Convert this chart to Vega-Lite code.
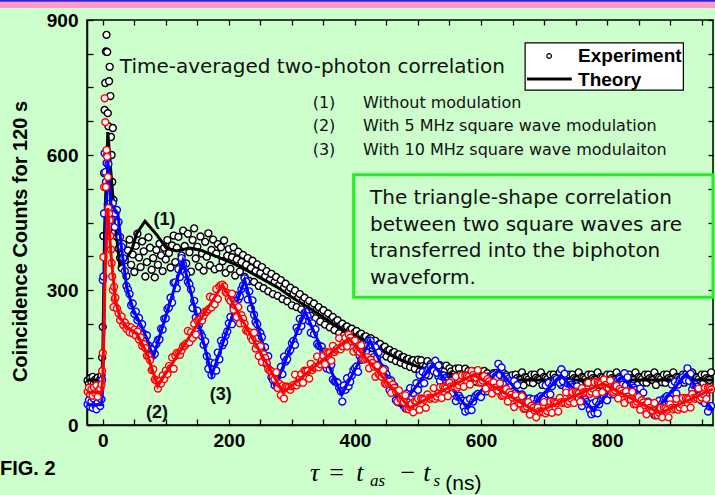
{
"$schema":"https://vega.github.io/schema/vega-lite/v6.json",
"width":626,"height":405,"autosize":"none",
"padding":{"left":87,"top":20,"right":2,"bottom":70},
"background":"#CCFFCC",
"config":{"view":{"stroke":"black","strokeWidth":1.5}},
"resolve":{"axis":{"x":"independent","y":"independent"}},
"datasets":{
"pts":[
{"t":-24,"k":99,"r":74,"b":46},{"t":-22,"k":92,"r":83,"b":55},{"t":-20,"k":104,"r":68,"b":41},{"t":-18,"k":96,"r":79,"b":52},{"t":-16,"k":107,"r":65,"b":38},{"t":-14,"k":93,"r":84,"b":58},{"t":-12,"k":101,"r":71,"b":44},{"t":-10,"k":98,"r":88,"b":35},{"t":-8,"k":105,"r":63,"b":50},{"t":-6,"k":94,"r":77,"b":61},{"t":-4,"k":102,"r":81,"b":42},{"t":-2,"k":110,"r":90,"b":57},
{"t":-1,"k":150,"r":120,"b":100},{"t":0,"k":218,"r":160,"b":322},{"t":1,"k":420,"r":373,"b":330},{"t":2,"k":560,"r":529,"b":470},{"t":3,"k":700,"r":726,"b":604},{"t":4,"k":760,"r":673,"b":562},{"t":5,"k":830,"r":529,"b":540},{"t":6,"k":867,"r":611,"b":582},{"t":7,"k":829,"r":596,"b":600},{"t":8,"k":693,"r":551,"b":490},{"t":9,"k":664,"r":482,"b":580},{"t":10,"k":764,"r":470,"b":470},{"t":11,"k":796,"r":455,"b":492},{"t":12,"k":731,"r":420,"b":480},{"t":13,"k":640,"r":390,"b":470},{"t":14,"k":600,"r":360,"b":462},{"t":15,"k":540,"r":330,"b":480},{"t":16,"k":660,"r":300,"b":493},{"t":17,"k":500,"r":262,"b":465},{"t":18,"k":470,"r":307,"b":470},{"t":19,"k":430,"r":280,"b":440},
{"t":20,"k":441,"r":283,"b":470},{"t":22.5,"k":418,"r":259,"b":478},{"t":25,"k":392,"r":248,"b":451},{"t":27.5,"k":371,"r":233,"b":418},{"t":30,"k":349,"r":241,"b":396},{"t":32.5,"k":402,"r":222,"b":371},{"t":35,"k":366,"r":228,"b":342},{"t":37.5,"k":331,"r":214,"b":309},{"t":40,"k":388,"r":219,"b":301},{"t":42.5,"k":412,"r":206,"b":291},{"t":45,"k":356,"r":217,"b":266},{"t":47.5,"k":379,"r":203,"b":270},{"t":50,"k":340,"r":212,"b":247},{"t":52.5,"k":398,"r":199,"b":252},{"t":55,"k":425,"r":208,"b":233},{"t":57.5,"k":372,"r":190,"b":238},{"t":60,"k":351,"r":195,"b":217},{"t":62.5,"k":408,"r":176,"b":224},{"t":65,"k":386,"r":180,"b":203},{"t":67.5,"k":330,"r":171,"b":193},{"t":70,"k":362,"r":154,"b":199},{"t":72.5,"k":417,"r":153,"b":177},{"t":75,"k":394,"r":144,"b":166},{"t":77.5,"k":345,"r":122,"b":168},{"t":80,"k":371,"r":124,"b":155},{"t":82.5,"k":328,"r":101,"b":158},{"t":85,"k":389,"r":99,"b":180},{"t":87.5,"k":356,"r":81,"b":189},{"t":90,"k":403,"r":97,"b":190},{"t":92.5,"k":377,"r":92,"b":214},{"t":95,"k":342,"r":110,"b":212},{"t":97.5,"k":394,"r":102,"b":236},{"t":100,"k":368,"r":121,"b":237},{"t":102.5,"k":411,"r":113,"b":258},{"t":105,"k":382,"r":131,"b":261},{"t":107.5,"k":350,"r":126,"b":283},
{"t":110,"k":399,"r":150,"b":272},{"t":112.5,"k":421,"r":125,"b":316},{"t":115,"k":362,"r":154,"b":317},{"t":117.5,"k":394,"r":160,"b":304},{"t":120,"k":418,"r":158,"b":346},{"t":122.5,"k":351,"r":156,"b":329},{"t":125,"k":377,"r":166,"b":371},{"t":127.5,"k":432,"r":175,"b":357},{"t":130,"k":398,"r":176,"b":340},{"t":132.5,"k":359,"r":181,"b":335},{"t":135,"k":425,"r":209,"b":318},{"t":137.5,"k":384,"r":184,"b":313},{"t":140,"k":341,"r":206,"b":301},{"t":142.5,"k":411,"r":193,"b":260},{"t":145,"k":437,"r":225,"b":276},{"t":147.5,"k":370,"r":201,"b":239},{"t":150,"k":396,"r":232,"b":254},{"t":152.5,"k":352,"r":234,"b":222},{"t":155,"k":419,"r":235,"b":204},{"t":157.5,"k":381,"r":232,"b":197},{"t":160,"k":343,"r":243,"b":178},{"t":162.5,"k":407,"r":252,"b":186},{"t":165,"k":374,"r":252,"b":153},{"t":167.5,"k":426,"r":257,"b":125},{"t":170,"k":355,"r":285,"b":139},{"t":172.5,"k":389,"r":261,"b":111},{"t":175,"k":412,"r":283,"b":123},{"t":177.5,"k":346,"r":268,"b":137},{"t":180,"k":381,"r":302,"b":121},{"t":182.5,"k":402,"r":280,"b":161},{"t":185,"k":350,"r":308,"b":146},{"t":187.5,"k":395,"r":311,"b":187},{"t":190,"k":364,"r":312,"b":177},{"t":192.5,"k":410,"r":308,"b":184},{"t":195,"k":338,"r":295,"b":199},{"t":197.5,"k":376,"r":293,"b":208},{"t":200,"k":391,"r":281,"b":226},
{"t":202.5,"k":347,"r":276,"b":240},{"t":205,"k":373,"r":292,"b":224},{"t":207.5,"k":395,"r":256,"b":263},{"t":210,"k":332,"r":266,"b":247},{"t":212.5,"k":368,"r":240,"b":288},{"t":215,"k":385,"r":262,"b":279},{"t":217.5,"k":341,"r":226,"b":286},{"t":220,"k":362,"r":244,"b":302},{"t":222.5,"k":378,"r":236,"b":310},{"t":225,"k":329,"r":225,"b":326},{"t":227.5,"k":356,"r":210,"b":319},{"t":230,"k":371,"r":208,"b":279},{"t":232.5,"k":320,"r":206,"b":297},{"t":235,"k":349,"r":195,"b":259},{"t":237.5,"k":365,"r":189,"b":277},{"t":240,"k":318,"r":205,"b":245},{"t":242.5,"k":342,"r":170,"b":229},{"t":245,"k":357,"r":179,"b":224},{"t":247.5,"k":309,"r":153,"b":208},{"t":250,"k":338,"r":175,"b":204},{"t":252.5,"k":351,"r":140,"b":195},{"t":255,"k":304,"r":157,"b":156},{"t":257.5,"k":330,"r":149,"b":173},{"t":260,"k":342,"r":138,"b":135},{"t":262.5,"k":297,"r":124,"b":153},{"t":265,"k":323,"r":121,"b":122},{"t":267.5,"k":336,"r":119,"b":106},{"t":270,"k":291,"r":108,"b":100},{"t":272.5,"k":318,"r":102,"b":88},{"t":275,"k":329,"r":117,"b":97},{"t":277.5,"k":287,"r":82,"b":108},{"t":280,"k":311,"r":92,"b":91},{"t":282.5,"k":322,"r":66,"b":129},{"t":285,"k":280,"r":87,"b":113},{"t":287.5,"k":305,"r":59,"b":152},{"t":290,"k":314,"r":85,"b":141},{"t":292.5,"k":275,"r":85,"b":146},{"t":295,"k":298,"r":83,"b":162},{"t":297.5,"k":305,"r":78,"b":167},
{"t":300,"k":266,"r":86,"b":182},{"t":302.5,"k":291,"r":89,"b":187},{"t":305,"k":299,"r":112,"b":178},{"t":307.5,"k":262,"r":88,"b":216},{"t":310,"k":283,"r":95,"b":209},{"t":312.5,"k":291,"r":103,"b":236},{"t":315,"k":257,"r":113,"b":220},{"t":317.5,"k":276,"r":94,"b":233},{"t":320,"k":283,"r":121,"b":249},{"t":322.5,"k":250,"r":120,"b":251},{"t":325,"k":271,"r":120,"b":242},{"t":327.5,"k":276,"r":103,"b":231},{"t":330,"k":243,"r":136,"b":205},{"t":332.5,"k":264,"r":122,"b":226},{"t":335,"k":270,"r":127,"b":202},{"t":337.5,"k":237,"r":129,"b":213},{"t":340,"k":257,"r":152,"b":180},{"t":342.5,"k":262,"r":128,"b":176},{"t":345,"k":230,"r":135,"b":175},{"t":347.5,"k":250,"r":144,"b":174},{"t":350,"k":255,"r":154,"b":163},{"t":352.5,"k":223,"r":135,"b":152},{"t":355,"k":243,"r":162,"b":126},{"t":357.5,"k":248,"r":160,"b":147},{"t":360,"k":217,"r":160,"b":123},{"t":362.5,"k":236,"r":143,"b":134},{"t":365,"k":240,"r":176,"b":101},{"t":367.5,"k":211,"r":162,"b":97},{"t":370,"k":230,"r":167,"b":96},{"t":372.5,"k":233,"r":170,"b":94},{"t":375,"k":204,"r":193,"b":83},{"t":377.5,"k":222,"r":168,"b":75},{"t":380,"k":225,"r":175,"b":52},{"t":382.5,"k":199,"r":184,"b":88},{"t":385,"k":217,"r":194,"b":78},{"t":387.5,"k":219,"r":175,"b":104},{"t":390,"k":194,"r":201,"b":86},{"t":392.5,"k":212,"r":194,"b":96},{"t":395,"k":214,"r":186,"b":110},{"t":397.5,"k":189,"r":163,"b":122},
{"t":400,"k":206,"r":188,"b":126},{"t":402.5,"k":209,"r":168,"b":130},{"t":405,"k":184,"r":165,"b":118},{"t":407.5,"k":201,"r":162,"b":154},{"t":410,"k":203,"r":177,"b":145},{"t":412.5,"k":181,"r":147,"b":170},{"t":415,"k":196,"r":146,"b":152},{"t":417.5,"k":197,"r":149,"b":163},{"t":420,"k":176,"r":151,"b":176},{"t":422.5,"k":191,"r":126,"b":188},{"t":425,"k":193,"r":145,"b":187},{"t":427.5,"k":171,"r":138,"b":177},{"t":430,"k":185,"r":130,"b":151},{"t":432.5,"k":187,"r":107,"b":173},{"t":435,"k":165,"r":132,"b":149},{"t":437.5,"k":179,"r":113,"b":161},{"t":440,"k":180,"r":110,"b":129},{"t":442.5,"k":158,"r":107,"b":125},{"t":445,"k":172,"r":122,"b":125},{"t":447.5,"k":174,"r":92,"b":124},{"t":450,"k":152,"r":91,"b":113},{"t":452.5,"k":166,"r":94,"b":103},{"t":455,"k":167,"r":96,"b":77},{"t":457.5,"k":147,"r":71,"b":99},{"t":460,"k":161,"r":90,"b":76},{"t":462.5,"k":162,"r":83,"b":87},{"t":465,"k":142,"r":75,"b":55},{"t":467.5,"k":156,"r":52,"b":51},{"t":470,"k":157,"r":77,"b":51},{"t":472.5,"k":138,"r":57,"b":49},{"t":475,"k":151,"r":54,"b":49},{"t":477.5,"k":151,"r":51,"b":50},{"t":480,"k":133,"r":66,"b":37},{"t":482.5,"k":146,"r":36,"b":70},{"t":485,"k":147,"r":35,"b":59},{"t":487.5,"k":129,"r":40,"b":82},{"t":490,"k":143,"r":47,"b":62},{"t":492.5,"k":144,"r":28,"b":71},{"t":495,"k":125,"r":53,"b":82},{"t":497.5,"k":139,"r":52,"b":93},
{"t":500,"k":145,"r":59,"b":78},{"t":502.5,"k":119,"r":34,"b":111},{"t":505,"k":144,"r":59,"b":92},{"t":507.5,"k":131,"r":58,"b":118},{"t":510,"k":124,"r":56,"b":93},{"t":512.5,"k":130,"r":38,"b":112},{"t":515,"k":142,"r":68,"b":123},{"t":517.5,"k":110,"r":60,"b":126},{"t":520,"k":135,"r":58,"b":130},{"t":522.5,"k":128,"r":61,"b":125},{"t":525,"k":121,"r":82,"b":120},{"t":527.5,"k":121,"r":58,"b":143},{"t":530,"k":133,"r":63,"b":116},{"t":532.5,"k":108,"r":70,"b":132},{"t":535,"k":133,"r":84,"b":98},{"t":537.5,"k":120,"r":60,"b":108},{"t":540,"k":114,"r":85,"b":110},{"t":542.5,"k":120,"r":83,"b":104},{"t":545,"k":132,"r":81,"b":99},{"t":547.5,"k":101,"r":64,"b":86},{"t":550,"k":126,"r":94,"b":75},{"t":552.5,"k":119,"r":86,"b":98},{"t":555,"k":113,"r":84,"b":71},{"t":557.5,"k":113,"r":86,"b":87},{"t":560,"k":125,"r":107,"b":53},{"t":562.5,"k":101,"r":83,"b":63},{"t":565,"k":126,"r":88,"b":65},{"t":567.5,"k":113,"r":96,"b":59},{"t":570,"k":108,"r":110,"b":54},{"t":572.5,"k":113,"r":85,"b":41},{"t":575,"k":125,"r":110,"b":30},{"t":577.5,"k":95,"r":109,"b":54},{"t":580,"k":120,"r":107,"b":33},{"t":582.5,"k":113,"r":90,"b":58},{"t":585,"k":108,"r":120,"b":33},{"t":587.5,"k":107,"r":111,"b":52},{"t":590,"k":119,"r":106,"b":62},{"t":592.5,"k":96,"r":105,"b":66},{"t":595,"k":120,"r":122,"b":69},{"t":597.5,"k":107,"r":94,"b":65},
{"t":600,"k":103,"r":95,"b":62},{"t":602.5,"k":108,"r":99,"b":94},{"t":605,"k":120,"r":109,"b":75},{"t":607.5,"k":91,"r":81,"b":101},{"t":610,"k":115,"r":102,"b":75},{"t":612.5,"k":108,"r":97,"b":94},{"t":615,"k":104,"r":91,"b":104},{"t":617.5,"k":103,"r":70,"b":108},{"t":620,"k":115,"r":95,"b":111},{"t":622.5,"k":92,"r":83,"b":107},{"t":625,"k":116,"r":77,"b":104},{"t":627.5,"k":103,"r":76,"b":136},{"t":630,"k":100,"r":93,"b":111},{"t":632.5,"k":104,"r":65,"b":128},{"t":635,"k":116,"r":66,"b":94},{"t":637.5,"k":88,"r":70,"b":105},{"t":640,"k":111,"r":80,"b":107},{"t":642.5,"k":104,"r":52,"b":102},{"t":645,"k":101,"r":73,"b":97},{"t":647.5,"k":99,"r":67,"b":85},{"t":650,"k":111,"r":61,"b":74},{"t":652.5,"k":89,"r":40,"b":98},{"t":655,"k":112,"r":66,"b":71},{"t":657.5,"k":104,"r":54,"b":89},{"t":660,"k":100,"r":48,"b":55},{"t":662.5,"k":100,"r":47,"b":66},{"t":665,"k":117,"r":64,"b":68},{"t":667.5,"k":88,"r":36,"b":63},{"t":670,"k":107,"r":37,"b":58},{"t":672.5,"k":105,"r":41,"b":46},{"t":675,"k":101,"r":51,"b":35},{"t":677.5,"k":95,"r":23,"b":59},{"t":680,"k":112,"r":43,"b":32},{"t":682.5,"k":93,"r":38,"b":57},{"t":685,"k":112,"r":32,"b":30},{"t":687.5,"k":105,"r":17,"b":49},{"t":690,"k":102,"r":39,"b":59},{"t":692.5,"k":100,"r":30,"b":61},{"t":695,"k":117,"r":28,"b":64},{"t":697.5,"k":89,"r":30,"b":60},
{"t":700,"k":107,"r":51,"b":57},{"t":702.5,"k":105,"r":26,"b":88},{"t":705,"k":102,"r":31,"b":69},{"t":707.5,"k":95,"r":38,"b":94},{"t":710,"k":112,"r":52,"b":68},{"t":712.5,"k":94,"r":27,"b":86},{"t":715,"k":112,"r":52,"b":96},{"t":717.5,"k":105,"r":50,"b":99},{"t":720,"k":101,"r":48,"b":102},{"t":722.5,"k":100,"r":30,"b":97},{"t":725,"k":117,"r":60,"b":94},{"t":727.5,"k":89,"r":51,"b":124},{"t":730,"k":107,"r":49,"b":97},{"t":732.5,"k":105,"r":51,"b":114},{"t":735,"k":102,"r":72,"b":81},{"t":737.5,"k":95,"r":47,"b":92},{"t":740,"k":112,"r":52,"b":94},{"t":742.5,"k":94,"r":59,"b":89},{"t":745,"k":112,"r":73,"b":84},{"t":747.5,"k":104,"r":49,"b":73},{"t":750,"k":101,"r":74,"b":62},{"t":752.5,"k":100,"r":72,"b":86},{"t":755,"k":117,"r":70,"b":59},{"t":757.5,"k":89,"r":52,"b":76},{"t":760,"k":107,"r":82,"b":42},{"t":762.5,"k":105,"r":73,"b":53},{"t":765,"k":102,"r":71,"b":56},{"t":767.5,"k":95,"r":73,"b":51},{"t":770,"k":112,"r":94,"b":46},{"t":772.5,"k":94,"r":69,"b":34},{"t":775,"k":112,"r":74,"b":24},{"t":777.5,"k":104,"r":81,"b":48},{"t":780,"k":101,"r":95,"b":27},{"t":782.5,"k":100,"r":70,"b":52},{"t":785,"k":117,"r":95,"b":26},{"t":787.5,"k":89,"r":93,"b":46},{"t":790,"k":107,"r":91,"b":56},{"t":792.5,"k":105,"r":73,"b":59},{"t":795,"k":102,"r":101,"b":62},{"t":797.5,"k":95,"r":89,"b":58},
{"t":800,"k":112,"r":83,"b":55},{"t":802.5,"k":94,"r":82,"b":87},{"t":805,"k":112,"r":99,"b":68},{"t":807.5,"k":104,"r":72,"b":94},{"t":810,"k":101,"r":73,"b":68},{"t":812.5,"k":100,"r":77,"b":87},{"t":815,"k":117,"r":87,"b":97},{"t":817.5,"k":89,"r":59,"b":100},{"t":820,"k":107,"r":80,"b":103},{"t":822.5,"k":105,"r":76,"b":99},{"t":825,"k":102,"r":70,"b":90},{"t":827.5,"k":95,"r":49,"b":115},{"t":830,"k":112,"r":75,"b":88},{"t":832.5,"k":94,"r":63,"b":106},{"t":835,"k":112,"r":57,"b":73},{"t":837.5,"k":104,"r":57,"b":84},{"t":840,"k":101,"r":74,"b":87},{"t":842.5,"k":100,"r":46,"b":83},{"t":845,"k":117,"r":47,"b":78},{"t":847.5,"k":89,"r":52,"b":67},{"t":850,"k":107,"r":62,"b":56},{"t":852.5,"k":105,"r":34,"b":81},{"t":855,"k":102,"r":55,"b":54},{"t":857.5,"k":95,"r":50,"b":72},{"t":860,"k":112,"r":44,"b":38},{"t":862.5,"k":94,"r":24,"b":50},{"t":865,"k":112,"r":50,"b":52},{"t":867.5,"k":104,"r":38,"b":48},{"t":870,"k":101,"r":32,"b":44},{"t":872.5,"k":100,"r":32,"b":32},{"t":875,"k":117,"r":49,"b":22},{"t":877.5,"k":89,"r":21,"b":48},{"t":880,"k":107,"r":22,"b":29},{"t":882.5,"k":105,"r":27,"b":54},{"t":885,"k":102,"r":38,"b":28},{"t":887.5,"k":95,"r":17,"b":48},{"t":890,"k":112,"r":38,"b":58},{"t":892.5,"k":94,"r":37,"b":61},{"t":895,"k":112,"r":34,"b":64},{"t":897.5,"k":104,"r":17,"b":60},
{"t":900,"k":101,"r":46,"b":57},{"t":902.5,"k":100,"r":38,"b":90},{"t":905,"k":117,"r":35,"b":71},{"t":907.5,"k":89,"r":38,"b":96},{"t":910,"k":107,"r":58,"b":70},{"t":912.5,"k":105,"r":34,"b":90},{"t":915,"k":102,"r":39,"b":100},{"t":917.5,"k":95,"r":46,"b":103},{"t":920,"k":112,"r":60,"b":106},{"t":922.5,"k":94,"r":36,"b":102},{"t":925,"k":112,"r":60,"b":99},{"t":927.5,"k":104,"r":59,"b":126},{"t":930,"k":101,"r":57,"b":98},{"t":932.5,"k":100,"r":39,"b":114},{"t":935,"k":117,"r":69,"b":79},{"t":937.5,"k":89,"r":60,"b":89},{"t":940,"k":107,"r":58,"b":90},{"t":942.5,"k":105,"r":61,"b":85},{"t":945,"k":102,"r":81,"b":79},{"t":947.5,"k":95,"r":57,"b":66},{"t":950,"k":112,"r":61,"b":54},{"t":952.5,"k":94,"r":69,"b":77},{"t":955,"k":112,"r":83,"b":49},{"t":957.5,"k":104,"r":58,"b":65},{"t":960,"k":101,"r":83,"b":30},{"t":962.5,"k":100,"r":82,"b":41},{"t":965,"k":117,"r":79,"b":42}
],
"tk":[{"t":-25,"v":100},{"t":-2,"v":100},{"t":0,"v":150},{"t":3,"v":440},{"t":8,"v":651},{"t":13,"v":560},{"t":19,"v":456},{"t":27,"v":355},{"t":35,"v":365},{"t":46,"v":389},{"t":54,"v":426},{"t":67,"v":453},{"t":86,"v":422},{"t":101,"v":393},{"t":117,"v":387},{"t":138,"v":393},{"t":154,"v":389},{"t":181,"v":374},{"t":210,"v":357},{"t":228,"v":344},{"t":250,"v":327},{"t":276,"v":307},{"t":300,"v":284},{"t":333,"v":255},{"t":365,"v":225},{"t":387,"v":206},{"t":424,"v":182},{"t":450,"v":160},{"t":476,"v":142},{"t":500,"v":130},{"t":530,"v":118},{"t":583,"v":106},{"t":635,"v":100},{"t":968,"v":100}],
"tr":[{"t":-25,"v":73},{"t":-2,"v":73},{"t":0,"v":100},{"t":4,"v":350},{"t":8,"v":482},{"t":13,"v":380},{"t":20,"v":278},{"t":27,"v":240},{"t":38,"v":218},{"t":54,"v":204},{"t":70,"v":160},{"t":87,"v":86},{"t":190,"v":311},{"t":286,"v":72},{"t":390,"v":192},{"t":487,"v":38},{"t":588,"v":112},{"t":689,"v":28},{"t":793,"v":92},{"t":884,"v":26},{"t":968,"v":80}],
"tb":[{"t":-25,"v":45},{"t":-2,"v":45},{"t":0,"v":80},{"t":4,"v":400},{"t":8,"v":590},{"t":13,"v":490},{"t":24,"v":470},{"t":30,"v":390},{"t":38,"v":307},{"t":48,"v":258},{"t":62,"v":218},{"t":71,"v":189},{"t":80,"v":150},{"t":127,"v":365},{"t":173,"v":111},{"t":225,"v":322},{"t":273,"v":85},{"t":321,"v":252},{"t":379,"v":67},{"t":424,"v":187},{"t":473,"v":42},{"t":524,"v":135},{"t":578,"v":38},{"t":628,"v":122},{"t":680,"v":40},{"t":727,"v":110},{"t":778,"v":32},{"t":823,"v":106},{"t":877,"v":32},{"t":926,"v":114},{"t":968,"v":32}]
},
"layer":[
{"data":{"name":"pts"},"mark":{"type":"point","shape":"circle","filled":true,"fill":"white","stroke":"black","strokeWidth":1.4,"size":48,"opacity":1},
 "encoding":{
  "x":{"field":"t","type":"quantitative","scale":{"domain":[-25,968],"nice":false,"zero":false},
   "axis":{"orient":"bottom","values":[0,50,100,150,200,250,300,350,400,450,500,550,600,650,700,750,800,850,900,950],"labelExpr":"datum.value % 200 === 0 ? datum.label : ''","title":null,"grid":false,"domainColor":"black","domainWidth":1.5,"tickColor":"black","tickWidth":1.3,"tickSize":-6,"labelPadding":12,"labelFont":"Liberation Sans","labelFontWeight":"bold","labelFontSize":19,"labelColor":"black","labelFlush":false}},
  "y":{"field":"k","type":"quantitative","scale":{"domain":[0,900],"nice":false},
   "axis":{"orient":"left","values":[0,75,150,225,300,375,450,525,600,675,750,825,900],"labelExpr":"datum.value % 300 === 0 ? datum.label : ''","title":"Coincidence Counts for 120 s","titleFont":"Liberation Sans","titleFontWeight":"bold","titleFontSize":20,"titleColor":"black","titleX":-67,"titleY":221,"titleAlign":"center","titleBaseline":"middle","titleAngle":-90,"grid":false,"domainColor":"black","domainWidth":1.5,"tickColor":"black","tickWidth":1.3,"tickSize":-6,"labelPadding":15,"labelFont":"Liberation Sans","labelFontWeight":"bold","labelFontSize":19,"labelColor":"black","labelFlush":false}}}},
{"data":{"values":[{}]},"mark":{"type":"rect","fill":"#FF99CC"},
 "encoding":{"x":{"datum":-175,"type":"quantitative","axis":{"orient":"top","values":[0,50,100,150,200,250,300,350,400,450,500,550,600,650,700,750,800,850,900,950],"labels":false,"title":null,"grid":false,"domain":false,"tickColor":"black","tickWidth":1.3,"tickSize":-5}},"x2":{"datum":1010},"y":{"datum":926.5,"type":"quantitative","axis":{"orient":"right","values":[0,75,150,225,300,375,450,525,600,675,750,825,900],"labels":false,"title":null,"grid":false,"domain":false,"tickColor":"black","tickWidth":1.3,"tickSize":-5}},"y2":{"datum":941}}},
{"data":{"values":[{}]},"mark":{"type":"rect","fill":"#3322CC"},
 "encoding":{"x":{"datum":-175,"type":"quantitative","axis":null},"x2":{"datum":1010},"y":{"datum":940.5,"type":"quantitative","axis":null},"y2":{"datum":950}}},
{"data":{"name":"tk"},"mark":{"type":"line","color":"black","strokeWidth":3},
 "encoding":{"x":{"field":"t","type":"quantitative","axis":null},"y":{"field":"v","type":"quantitative","axis":null}}},
{"data":{"name":"pts"},"mark":{"type":"point","shape":"circle","filled":true,"fill":"white","stroke":"#0000FF","strokeWidth":1.4,"size":48,"opacity":1},
 "encoding":{"x":{"field":"t","type":"quantitative","axis":null},"y":{"field":"b","type":"quantitative","axis":null}}},
{"data":{"name":"tb"},"mark":{"type":"line","color":"#0000FF","strokeWidth":3},
 "encoding":{"x":{"field":"t","type":"quantitative","axis":null},"y":{"field":"v","type":"quantitative","axis":null}}},
{"data":{"name":"pts"},"mark":{"type":"point","shape":"circle","filled":true,"fill":"white","stroke":"#FF0000","strokeWidth":1.4,"size":48,"opacity":1},
 "encoding":{"x":{"field":"t","type":"quantitative","axis":null},"y":{"field":"r","type":"quantitative","axis":null}}},
{"data":{"name":"tr"},"mark":{"type":"line","color":"#FF0000","strokeWidth":3},
 "encoding":{"x":{"field":"t","type":"quantitative","axis":null},"y":{"field":"v","type":"quantitative","axis":null}}},
{"data":{"values":[{}]},"mark":{"type":"rect","fillOpacity":0,"stroke":"#22EE22","strokeWidth":3},
 "encoding":{"x":{"datum":398,"type":"quantitative","axis":null},"x2":{"datum":968},"y":{"datum":284,"type":"quantitative","axis":null},"y2":{"datum":556}}},
{"data":{"values":[{}]},"mark":{"type":"rect","fill":"white","stroke":"black","strokeWidth":1.2},
 "encoding":{"x":{"datum":670,"type":"quantitative","axis":null},"x2":{"datum":921},"y":{"datum":744,"type":"quantitative","axis":null},"y2":{"datum":849}}},
{"data":{"values":[{}]},"mark":{"type":"point","shape":"circle","filled":true,"fill":"white","stroke":"black","strokeWidth":1.2,"size":22,"opacity":1},
 "encoding":{"x":{"datum":708,"type":"quantitative","axis":null},"y":{"datum":820,"type":"quantitative","axis":null}}},
{"data":{"values":[{}]},"mark":{"type":"rule","color":"black","strokeWidth":3},
 "encoding":{"x":{"datum":673,"type":"quantitative","axis":null},"x2":{"datum":744},"y":{"datum":769,"type":"quantitative","axis":null}}},
{"data":{"values":[{}]},"mark":{"type":"text","text":"Experiment","align":"left","baseline":"middle","font":"Liberation Sans","fontWeight":"bold","fontSize":19,"color":"black"},
 "encoding":{"x":{"datum":754,"type":"quantitative","axis":null},"y":{"datum":820,"type":"quantitative","axis":null}}},
{"data":{"values":[{}]},"mark":{"type":"text","text":"Theory","align":"left","baseline":"middle","font":"Liberation Sans","fontWeight":"bold","fontSize":19,"color":"black"},
 "encoding":{"x":{"datum":754,"type":"quantitative","axis":null},"y":{"datum":767,"type":"quantitative","axis":null}}},
{"data":{"values":[{}]},"mark":{"type":"text","text":"Time-averaged two-photon correlation","align":"left","baseline":"middle","font":"DejaVu Sans","fontSize":20,"color":"#111111"},
 "encoding":{"x":{"datum":27,"type":"quantitative","axis":null},"y":{"datum":796,"type":"quantitative","axis":null}}},
{"data":{"values":[{}]},"mark":{"type":"text","text":["(1)","(2)","(3)"],"align":"left","baseline":"middle","lineHeight":23.5,"font":"DejaVu Sans","fontSize":16,"color":"#111111"},
 "encoding":{"x":{"datum":333,"type":"quantitative","axis":null},"y":{"datum":716,"type":"quantitative","axis":null}}},
{"data":{"values":[{}]},"mark":{"type":"text","text":["Without modulation","With 5 MHz square wave modulation","With 10 MHz square wave modulaiton"],"align":"left","baseline":"middle","lineHeight":23.5,"font":"DejaVu Sans","fontSize":16,"color":"#111111"},
 "encoding":{"x":{"datum":413,"type":"quantitative","axis":null},"y":{"datum":716,"type":"quantitative","axis":null}}},
{"data":{"values":[{}]},"mark":{"type":"text","text":["The triangle-shape correlation","between two square waves are","transferred into the biphoton","waveform."],"align":"left","baseline":"middle","lineHeight":26.5,"font":"DejaVu Sans","fontSize":20,"color":"#111111"},
 "encoding":{"x":{"datum":424,"type":"quantitative","axis":null},"y":{"datum":504,"type":"quantitative","axis":null}}},
{"data":{"values":[{}]},"mark":{"type":"text","text":"(1)","align":"center","baseline":"middle","font":"Liberation Sans","fontWeight":"bold","fontSize":18,"color":"#111111"},
 "encoding":{"x":{"datum":98,"type":"quantitative","axis":null},"y":{"datum":456,"type":"quantitative","axis":null}}},
{"data":{"values":[{}]},"mark":{"type":"text","text":"(2)","align":"center","baseline":"middle","font":"Liberation Sans","fontWeight":"bold","fontSize":18,"color":"#111111"},
 "encoding":{"x":{"datum":86,"type":"quantitative","axis":null},"y":{"datum":27,"type":"quantitative","axis":null}}},
{"data":{"values":[{}]},"mark":{"type":"text","text":"(3)","align":"center","baseline":"middle","font":"Liberation Sans","fontWeight":"bold","fontSize":18,"color":"#111111"},
 "encoding":{"x":{"datum":187,"type":"quantitative","axis":null},"y":{"datum":67,"type":"quantitative","axis":null}}},
{"data":{"values":[{}]},"mark":{"type":"text","text":"FIG. 2","align":"left","baseline":"middle","font":"Liberation Sans","fontWeight":"bold","fontSize":20,"color":"black"},
 "encoding":{"x":{"datum":-163,"type":"quantitative","axis":null},"y":{"datum":-98,"type":"quantitative","axis":null}}},
{"data":{"values":[{}]},"mark":{"type":"text","text":"τ","align":"center","baseline":"middle","font":"Liberation Serif","fontStyle":"italic","fontSize":26,"color":"black"},
 "encoding":{"x":{"datum":336,"type":"quantitative","axis":null},"y":{"datum":-107,"type":"quantitative","axis":null}}},
{"data":{"values":[{}]},"mark":{"type":"text","text":"=","align":"center","baseline":"middle","font":"Liberation Serif","fontSize":26,"color":"black"},
 "encoding":{"x":{"datum":371,"type":"quantitative","axis":null},"y":{"datum":-107,"type":"quantitative","axis":null}}},
{"data":{"values":[{}]},"mark":{"type":"text","text":"t","align":"center","baseline":"middle","font":"Liberation Serif","fontStyle":"italic","fontSize":26,"color":"black"},
 "encoding":{"x":{"datum":408,"type":"quantitative","axis":null},"y":{"datum":-107,"type":"quantitative","axis":null}}},
{"data":{"values":[{}]},"mark":{"type":"text","text":"as","align":"center","baseline":"middle","font":"Liberation Serif","fontStyle":"italic","fontSize":17,"color":"black"},
 "encoding":{"x":{"datum":436,"type":"quantitative","axis":null},"y":{"datum":-124,"type":"quantitative","axis":null}}},
{"data":{"values":[{}]},"mark":{"type":"text","text":"−","align":"center","baseline":"middle","font":"Liberation Serif","fontSize":26,"color":"black"},
 "encoding":{"x":{"datum":484,"type":"quantitative","axis":null},"y":{"datum":-107,"type":"quantitative","axis":null}}},
{"data":{"values":[{}]},"mark":{"type":"text","text":"t","align":"center","baseline":"middle","font":"Liberation Serif","fontStyle":"italic","fontSize":26,"color":"black"},
 "encoding":{"x":{"datum":514,"type":"quantitative","axis":null},"y":{"datum":-107,"type":"quantitative","axis":null}}},
{"data":{"values":[{}]},"mark":{"type":"text","text":"s","align":"center","baseline":"middle","font":"Liberation Serif","fontStyle":"italic","fontSize":17,"color":"black"},
 "encoding":{"x":{"datum":530,"type":"quantitative","axis":null},"y":{"datum":-124,"type":"quantitative","axis":null}}},
{"data":{"values":[{}]},"mark":{"type":"text","text":"(ns)","align":"center","baseline":"middle","font":"Liberation Sans","fontSize":21,"color":"black"},
 "encoding":{"x":{"datum":572,"type":"quantitative","axis":null},"y":{"datum":-131,"type":"quantitative","axis":null}}}
]
}
